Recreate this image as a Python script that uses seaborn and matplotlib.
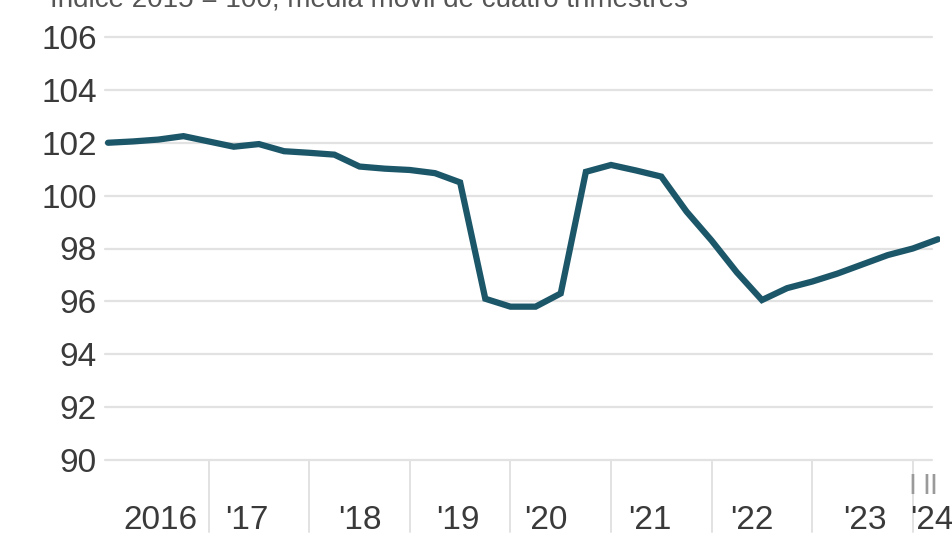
import matplotlib as mpl
mpl.use("Agg")
import matplotlib.pyplot as plt
import matplotlib.transforms as mtransforms
import seaborn as sns
import pandas as pd

# quarterly index, 2016 Q1 .. 2024 Q2
quarters = [f"{y} Q{q}" for y in range(2016, 2025) for q in range(1, 5)][:34]
index_values = [102.0, 102.05, 102.12, 102.25, 102.05, 101.85, 101.95, 101.68,
                101.62, 101.55, 101.1, 101.02, 100.97, 100.85, 100.5, 96.1,
                95.8, 95.8, 96.3, 100.9, 101.16, 100.95, 100.72, 99.4,
                98.3, 97.1, 96.05, 96.5, 96.75, 97.05, 97.4, 97.75,
                98.0, 98.35]
y_ticks = [90, 92, 94, 96, 98, 100, 102, 104, 106]
year_labels = ["2016", "'17", "'18", "'19", "'20", "'21", "'22", "'23", "'24"]
quarter_marks = ["I", "II"]
subtitle = "Índice 2015 = 100, media móvil de cuatro trimestres"

# label positions in quarter units (as in the original layout)
year_label_x = [2.1, 5.5, 10.0, 13.9, 17.4, 21.55, 25.6, 30.1, 32.75]

frame = pd.DataFrame({"q": range(len(quarters)), "value": index_values})

sns.set_style("white")
plt.rcParams["font.family"] = ["Liberation Sans", "DejaVu Sans"]

TEXT = "#3a3a3a"
GRID = "#e2e2e2"
LINE = "#1c5669"

fig = plt.figure(figsize=(9.52, 5.41), dpi=100)
ax = fig.add_axes([105 / 952, 1 - 460 / 541, 835 / 952, 423 / 541])

sns.lineplot(data=frame, x="q", y="value", ax=ax, color=LINE, linewidth=4.5,
             solid_joinstyle="miter", zorder=3)

ax.set_xlim(-0.12, 33.08)
ax.set_ylim(90, 106)
ax.set_yticks(y_ticks)
ax.set_yticklabels([str(t) for t in y_ticks])
ax.set_xticks([])
ax.set_xlabel("")
ax.set_ylabel("")
for t in y_ticks:
    ax.axhline(t, xmax=0.99, color=GRID, linewidth=1.6, zorder=1, clip_on=False)
sns.despine(ax=ax, left=True, bottom=True)
ax.tick_params(axis="y", length=0, pad=6, labelsize=24, labelcolor=TEXT)

# year separators below the axis
for k in range(1, 9):
    ax.axvline(4 * k, ymin=-0.17, ymax=0, color=GRID, linewidth=1.4, clip_on=False)

trans = mtransforms.blended_transform_factory(ax.transData, ax.transAxes)
for lab, xpos in zip(year_labels, year_label_x):
    ax.text(xpos, -0.142, lab, transform=trans, ha="center", va="center",
            fontsize=24, color=TEXT)
for i, lab in enumerate(quarter_marks):
    ax.text(32 + i * 0.7, -0.062, lab, transform=trans, ha="center", va="center",
            fontsize=21, color="#9a9a9a")

fig.text(50 / 952, 1 - 6 / 541, subtitle, ha="left", va="baseline",
         fontsize=20, color="#555555")

fig.savefig("out.png", dpi=100)
